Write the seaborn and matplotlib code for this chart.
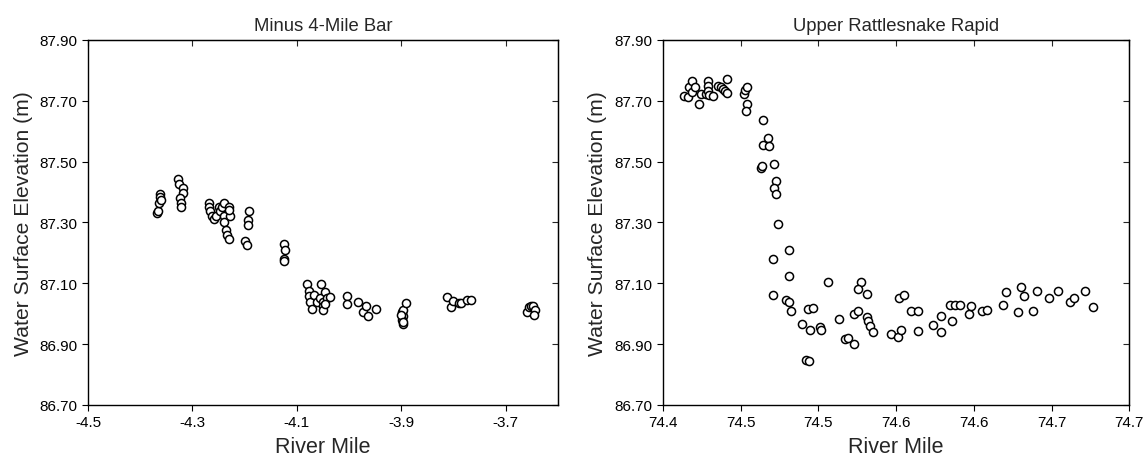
import matplotlib
matplotlib.use("Agg")
import matplotlib.pyplot as plt
import seaborn as sns
import pandas as pd

# ---------------- data ----------------
left_title = "Minus 4-Mile Bar"
right_title = "Upper Rattlesnake Rapid"
x_label = "River Mile"
y_label = "Water Surface Elevation (m)"

left_mile = [
    -4.367, -4.366, -4.364, -4.362, -4.362, -4.361,
    -4.327, -4.325, -4.318, -4.319, -4.323, -4.321, -4.321,
    -4.269, -4.268, -4.266, -4.263, -4.259, -4.254, -4.250, -4.247, -4.243,
    -4.240, -4.239, -4.240, -4.236, -4.233, -4.229, -4.229, -4.228, -4.230,
    -4.191, -4.194, -4.194, -4.200, -4.196,
    -4.125, -4.123, -4.125, -4.125,
    -4.080, -4.077, -4.077, -4.074, -4.071, -4.068, -4.061, -4.054, -4.056,
    -4.050, -4.050, -4.049, -4.046, -4.043, -4.037, -4.046,
    -4.004, -4.004, -3.982, -3.973, -3.968, -3.963, -3.949,
    -3.899, -3.897, -3.899, -3.897, -3.897, -3.891, -3.900, -3.896,
    -3.812, -3.805, -3.801, -3.790, -3.786, -3.775, -3.766,
    -3.659, -3.655, -3.651, -3.648, -3.644, -3.646,
]
left_elev = [
    87.330, 87.339, 87.363, 87.394, 87.385, 87.374,
    87.443, 87.427, 87.413, 87.398, 87.380, 87.363, 87.352,
    87.363, 87.352, 87.338, 87.320, 87.311, 87.320, 87.352, 87.338, 87.352,
    87.363, 87.320, 87.300, 87.276, 87.259, 87.245, 87.352, 87.320, 87.340,
    87.336, 87.309, 87.292, 87.240, 87.226,
    87.230, 87.210, 87.179, 87.172,
    87.098, 87.076, 87.059, 87.040, 87.015, 87.062, 87.040, 87.098, 87.051,
    87.040, 87.024, 87.013, 87.070, 87.051, 87.054, 87.033,
    87.057, 87.033, 87.040, 87.004, 87.026, 86.993, 87.015,
    87.004, 86.991, 86.980, 86.967, 87.013, 87.035, 86.997, 86.974,
    87.054, 87.022, 87.043, 87.035, 87.035, 87.046, 87.046,
    87.007, 87.022, 87.026, 87.024, 87.013, 86.997,
]

right_mile = [
    74.4138, 74.4162, 74.4167, 74.4186, 74.4186, 74.4205, 74.4229, 74.4245,
    74.4276, 74.4288, 74.4290, 74.4290, 74.4293, 74.4324, 74.4357, 74.4376,
    74.4388, 74.4400, 74.4414, 74.4414, 74.4519, 74.4529, 74.4538, 74.4538,
    74.4531,
    74.4645, 74.4643, 74.4674, 74.4681, 74.4633, 74.4638, 74.4714, 74.4724,
    74.4714, 74.4724, 74.4743, 74.4810, 74.4705, 74.4812, 74.4705, 74.4793,
    74.4812, 74.4821, 74.4893, 74.4936, 74.4948, 74.4967, 74.4919, 74.4938,
    74.5007, 74.5019, 74.5060, 74.5133, 74.5174, 74.5190, 74.5229, 74.5226,
    74.5257, 74.5274, 74.5257, 74.5310, 74.5310, 74.5317, 74.5329, 74.5352,
    74.5467, 74.5510, 74.5531, 74.5519, 74.5548, 74.5598, 74.5638, 74.5638,
    74.5740, 74.5786, 74.5788, 74.5860, 74.5848, 74.5881, 74.5912, 74.5971,
    74.5981, 74.6050, 74.6086, 74.6186, 74.6205, 74.6281, 74.6300, 74.6319,
    74.6381, 74.6405, 74.6483, 74.6538, 74.6619, 74.6645, 74.6717, 74.6769,
]
right_elev = [
    87.716, 87.711, 87.744, 87.766, 87.727, 87.746, 87.689, 87.722,
    87.722, 87.766, 87.749, 87.733, 87.718, 87.716, 87.749, 87.746,
    87.738, 87.733, 87.771, 87.726, 87.722, 87.735, 87.744, 87.689,
    87.667,
    87.638, 87.556, 87.578, 87.551, 87.479, 87.485, 87.493, 87.435,
    87.413, 87.393, 87.294, 87.208, 87.181, 87.125, 87.062, 87.044,
    87.039, 87.008, 86.967, 87.017, 86.947, 87.019, 86.849, 86.843,
    86.956, 86.945, 87.103, 86.984, 86.918, 86.920, 86.901, 86.998,
    87.008, 87.103, 87.081, 87.066, 86.989, 86.975, 86.959, 86.940,
    86.934, 86.925, 86.945, 87.053, 87.061, 87.008, 87.008, 86.942,
    86.962, 86.993, 86.940, 86.975, 87.030, 87.030, 87.030, 86.998,
    87.026, 87.008, 87.011, 87.030, 87.072, 87.004, 87.088, 87.057,
    87.008, 87.076, 87.053, 87.076, 87.039, 87.053, 87.076, 87.022,
]

y_ticks = [86.70, 86.90, 87.10, 87.30, 87.50, 87.70, 87.90]
left_xticks = [-4.5, -4.3, -4.1, -3.9, -3.7]
right_xticks = [74.40, 74.45, 74.50, 74.55, 74.60, 74.65, 74.70]
right_xticklabels = ["74.4", "74.5", "74.5", "74.6", "74.6", "74.7", "74.7"]

# ---------------- style ----------------
sns.set_style("ticks")
plt.rcParams["font.family"] = ["Liberation Sans", "DejaVu Sans"]

fig = plt.figure(figsize=(11.46, 4.64), dpi=100)
ax1 = fig.add_axes([0.0768, 0.125, 0.4100, 0.787])
ax2 = fig.add_axes([0.5785, 0.125, 0.4070, 0.787])

df_l = pd.DataFrame({"mile": left_mile, "elev": left_elev})
df_r = pd.DataFrame({"mile": right_mile, "elev": right_elev})

mk = dict(marker="o", s=34, facecolor="white", edgecolor="black", linewidth=1.1)
sns.scatterplot(data=df_l, x="mile", y="elev", ax=ax1, **mk)
sns.scatterplot(data=df_r, x="mile", y="elev", ax=ax2, **mk)


def style(ax, title, xlim, xticks, xticklabels):
    ax.set_xlim(*xlim)
    ax.set_ylim(86.70, 87.90)
    ax.set_xticks(xticks)
    ax.set_xticklabels(xticklabels)
    ax.set_yticks(y_ticks)
    ax.set_yticklabels([f"{v:.2f}" for v in y_ticks])
    ax.set_title(title, fontsize=13.3, pad=7)
    ax.set_xlabel(x_label, fontsize=15.5, labelpad=5)
    ax.set_ylabel(y_label, fontsize=15.2, labelpad=5)
    ax.tick_params(axis="both", direction="out", length=4, width=0.8,
                   labelsize=11, colors="black")
    for sp in ax.spines.values():
        sp.set_visible(True)
        sp.set_linewidth(1.0)
        sp.set_color("black")
    # mirrored inner ticks on top and right
    sx = ax.secondary_xaxis("top")
    sx.set_xticks(xticks)
    sx.tick_params(direction="in", length=4, width=0.8, labeltop=False)
    sy = ax.secondary_yaxis("right")
    sy.set_yticks(y_ticks)
    sy.tick_params(direction="in", length=4, width=0.8, labelright=False)


style(ax1, left_title, (-4.5, -3.6), left_xticks, [f"{v:.1f}" for v in left_xticks])
style(ax2, right_title, (74.40, 74.70), right_xticks, right_xticklabels)

fig.savefig("out.png", dpi=100, facecolor="white")
